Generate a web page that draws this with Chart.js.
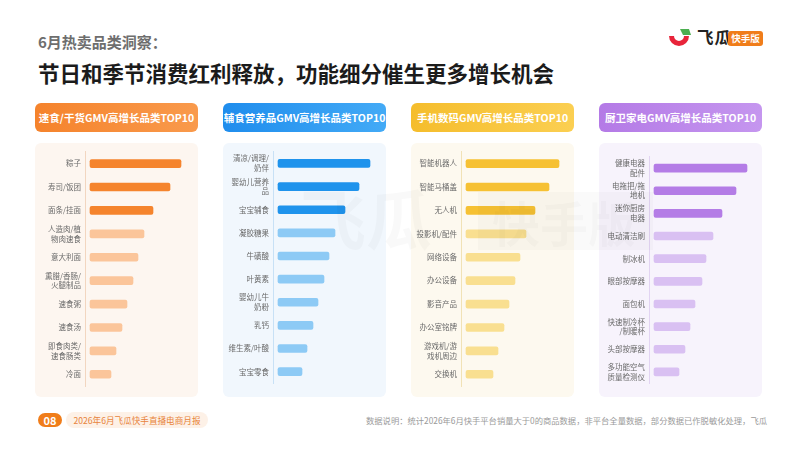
<!DOCTYPE html>
<html>
<head>
<meta charset="utf-8">
<script src="https://cdn.jsdelivr.net/npm/chart.js@4.4.0/dist/chart.umd.min.js"></script>
<style>
body { margin: 0; width: 800px; height: 450px; background: #fff; position: relative; overflow: hidden;
       font-family: "Noto Sans CJK SC", "Noto Sans", sans-serif; }
.kicker { position: absolute; left: 38px; top: 31px; font-size: 15px; font-weight: bold; color: #6e6e6e; }
.title { position: absolute; left: 38px; top: 57px; font-size: 21.5px; font-weight: bold; color: #1b1b1b; }
.logo { position: absolute; left: 666px; top: 27px; }
.logoText { position: absolute; left: 697px; top: 27px; font-size: 16.5px; font-weight: bold; color: #222; line-height: 20px; letter-spacing: 1px; }
.logoTag { position: absolute; left: 728px; top: 31px; width: 35px; height: 15px; background: #f07d1a; border-radius: 3px;
           color: #fff; font-size: 9.5px; font-weight: bold; text-align: center; line-height: 15px; }
.head { position: absolute; top: 103px; width: 163px; height: 29px; border-radius: 6px; color: #fff;
        font-size: 10.5px; font-weight: bold; text-align: center; line-height: 29px; white-space: nowrap; }
.body { position: absolute; top: 143px; width: 163px; height: 254px; border-radius: 6px; }
.body canvas { position: absolute; left: 0; top: 0; }
.page { position: absolute; left: 38px; top: 413px; width: 24px; height: 14px; border-radius: 7px; background: #f07d1a;
        color: #fff; font-size: 11px; font-weight: bold; text-align: center; line-height: 14px; }
.report { position: absolute; left: 66px; top: 412px; width: 142px; height: 16px; border-radius: 8px; background: #fdf1e7;
          color: #e8843c; font-size: 8.6px; text-align: center; line-height: 16px; }
.note { position: absolute; left: 366px; top: 413px; font-size: 8.3px; color: #9a9a9a; line-height: 14px; white-space: nowrap; }
.wm { position: absolute; pointer-events: none; color: rgba(0,0,0,0.022); font-weight: bold; white-space: nowrap; }
</style>
</head>
<body>
<div class="kicker">6月热卖品类洞察：</div>
<div class="title">节日和季节消费红利释放，功能细分催生更多增长机会</div>

<svg class="logo" width="28" height="22" viewBox="0 0 28 22">
  <path d="M3 9 A10 10 0 0 0 23 9 L18 9 A5 5 0 0 1 8 9 Z" fill="#e8243a"/>
  <path d="M14 2 L23 2 L25 8 L17 8 Z" fill="#4caf50"/>
</svg>
<div class="logoText">飞瓜</div>
<div class="logoTag">快手版</div>

<div class="head" style="left:35px;background:linear-gradient(90deg,#f5832c,#f99a4c)">速食/干货GMV高增长品类TOP10</div>
<div class="head" style="left:223px;background:linear-gradient(90deg,#1f8ded,#43aaf6)">辅食营养品GMV高增长品类TOP10</div>
<div class="head" style="left:411px;background:linear-gradient(90deg,#f5bd2c,#fbcf52)">手机数码GMV高增长品类TOP10</div>
<div class="head" style="left:599px;background:linear-gradient(90deg,#b47ae6,#c596ef)">厨卫家电GMV高增长品类TOP10</div>

<div class="body" style="left:35px;background:#fdf6f0"><canvas id="c1" width="163" height="254"></canvas></div>
<div class="body" style="left:223px;background:#f1f7fd"><canvas id="c2" width="163" height="254"></canvas></div>
<div class="body" style="left:411px;background:#fdf9ef"><canvas id="c3" width="163" height="254"></canvas></div>
<div class="body" style="left:599px;background:#f7f3fc"><canvas id="c4" width="163" height="254"></canvas></div>

<div class="wm" style="left:300px;top:176px;font-size:66px;line-height:80px;">飞瓜</div>
<div class="wm" style="left:478px;top:192px;width:175px;height:58px;background:rgba(0,0,0,0.018);font-size:48px;line-height:58px;text-indent:14px;">快手版</div>

<div class="page">08</div>
<div class="report">2026年6月飞瓜快手直播电商月报</div>
<div class="note">数据说明：统计2026年6月快手平台销量大于0的商品数据，非平台全量数据，部分数据已作脱敏化处理，飞瓜</div>

<script>
// GMV growth, relative index
const foodLabels = ['粽子', '寿司/饭团', '面条/挂面', ['人造肉/植', '物肉速食'], '意大利面',
    ['熏腊/香肠/', '火腿制品'], '速食粥', '速食汤', ['即食肉类/', '速食肠类'], '冷面'];
const foodValues = [91, 80, 63, 54, 48, 43, 37, 32, 26, 21];

const babyLabels = [['清凉/调理/', '奶伴'], ['婴幼儿营养', '品'], '宝宝辅食', '凝胶糖果', '牛磺酸',
    '叶黄素', ['婴幼儿牛', '奶粉'], '乳钙', '维生素/叶酸', '宝宝零食'];
const babyValues = [92, 81, 67, 57, 51, 46, 40, 35, 29, 24];

const digitalLabels = ['智能机器人', '智能马桶盖', '无人机', '投影机/配件', '网络设备',
    '办公设备', '影音产品', '办公室铭牌', ['游戏机/游', '戏机周边'], '交换机'];
const digitalValues = [93, 83, 69, 60, 54, 49, 43, 38, 32, 27];

const homeLabels = [['健康电器', '配件'], ['电拖把/拖', '地机'], ['迷你厨房', '电器'], '电动清洁刷', '制冰机',
    '眼部按摩器', '面包机', ['快速制冷杯', '/制暖杯'], '头部按摩器', ['多功能空气', '质量检测仪']];
const homeValues = [93, 82, 68, 59, 52, 48, 41, 36, 31, 25];

function makePanel(id, labels, values, dark, light, axisColor)
{
    const colors = values.map((v, i) => i < 3 ? dark : light);

    const config =
    {
        type: 'bar',
        data:
        {
            labels: labels,
            datasets:
            [
                {
                    data: values,
                    backgroundColor: colors,
                    barThickness: 8,
                    borderRadius: 2,
                    borderSkipped: false
                }
            ]
        },
        options:
        {
            indexAxis: 'y',
            responsive: false,
            animation: false,
            layout: { padding: { top: 7, bottom: 11, right: 3, left: 0 } },
            plugins:
            {
                legend: { display: false },
                tooltip: { enabled: false }
            },
            scales:
            {
                x:
                {
                    display: false,
                    min: -5,
                    max: 105
                },
                y:
                {
                    grid: { display: false, drawTicks: false },
                    border: { display: true, color: axisColor, width: 1 },
                    ticks:
                    {
                        color: '#6a6a6a',
                        padding: 4,
                        autoSkip: false,
                        font: { size: 7.5, family: '"Noto Sans CJK SC", sans-serif', lineHeight: 1.3 }
                    },
                    afterFit: (scale) => { scale.width = 50; }
                }
            }
        }
    };

    return new Chart(document.getElementById(id).getContext('2d'), config);
}

makePanel('c1', foodLabels, foodValues, '#f5842d', '#fbc59a', '#f2d6c0');
makePanel('c2', babyLabels, babyValues, '#1f93ec', '#8dcaf5', '#c8e1f6');
makePanel('c3', digitalLabels, digitalValues, '#f6c133', '#f9df90', '#f1e2b6');
makePanel('c4', homeLabels, homeValues, '#b47ce6', '#d9c0f2', '#e2d4f2');
</script>
</body>
</html>
